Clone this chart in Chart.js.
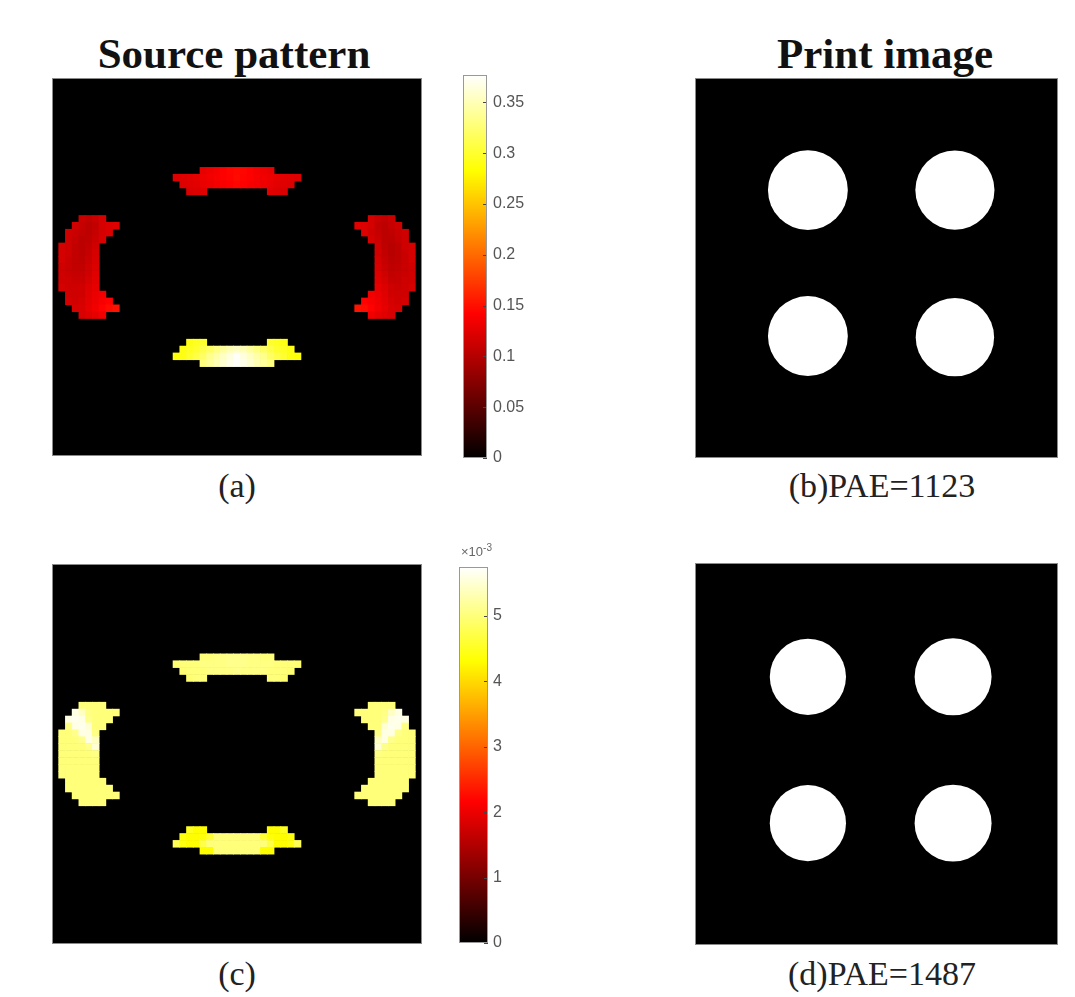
<!DOCTYPE html>
<html>
<head>
<meta charset="utf-8">
<title>Source pattern / Print image</title>
<script src="https://cdn.jsdelivr.net/npm/chart.js@4.4.1/dist/chart.umd.min.js"></script>
<style>
html, body { margin: 0; padding: 0; background: #fff; }
#page { position: relative; width: 1075px; height: 997px; overflow: hidden; background: #fff; }
.box { position: absolute; }
.box canvas { display: block; }
.title { position: absolute; width: 400px; text-align: center; white-space: nowrap;
         font-family: "Liberation Serif", "Times New Roman", serif; font-weight: bold;
         font-size: 43px; line-height: 43px; color: #111; }
.cap { position: absolute; width: 400px; text-align: center; white-space: nowrap;
       font-family: "Liberation Serif", "Times New Roman", serif;
       font-size: 34px; line-height: 34px; color: #222; }
.exp { position: absolute; font-family: "Liberation Sans", Arial, sans-serif; font-size: 13px;
       line-height: 13px; color: #666; white-space: nowrap; }
.exp sup { font-size: 10px; }
</style>
</head>
<body>
<div id="page">
    <div class="title" style="left:34px;top:32px;">Source pattern</div>
    <div class="title" style="left:685px;top:32px;">Print image</div>

    <div class="box" style="left:52px;top:78px;"><canvas id="srcA" width="370" height="378"></canvas></div>
    <div class="box" style="left:456px;top:60px;"><canvas id="cbA" width="100" height="413"></canvas></div>
    <div class="box" style="left:695px;top:78px;"><canvas id="printB" width="363" height="380"></canvas></div>

    <div class="box" style="left:52px;top:564px;"><canvas id="srcC" width="370" height="380"></canvas></div>
    <div class="box" style="left:452px;top:552px;"><canvas id="cbC" width="100" height="406"></canvas></div>
    <div class="exp" style="left:461px;top:541px;">&times;10<sup>-3</sup></div>
    <div class="box" style="left:695px;top:563px;"><canvas id="printD" width="363" height="382"></canvas></div>

    <div class="cap" style="left:37px;top:469px;">(a)</div>
    <div class="cap" style="left:682px;top:469px;">(b)PAE=1123</div>
    <div class="cap" style="left:37px;top:957px;">(c)</div>
    <div class="cap" style="left:682px;top:957px;">(d)PAE=1487</div>
</div>

<script>
// source grid is GRID_SIZE x GRID_SIZE pixels
var GRID_SIZE = 55;

// panel (a) source intensities: [row, first column, values left to right]
var srcTopA = [
    [13, 22, [0.128, 0.132, 0.136, 0.140, 0.144, 0.146, 0.144, 0.140, 0.136, 0.132, 0.128]],
    [14, 18, [0.122, 0.124, 0.126, 0.128, 0.131, 0.134, 0.137, 0.140, 0.143, 0.147, 0.143, 0.140, 0.137, 0.134, 0.131, 0.128, 0.126, 0.124, 0.122]],
    [15, 19, [0.122, 0.124, 0.126, 0.129, 0.132, 0.135, 0.138, 0.141, 0.144, 0.141, 0.138, 0.135, 0.132, 0.129, 0.126, 0.124, 0.122]],
    [16, 20, [0.120, 0.122, 0.124]],
    [16, 32, [0.124, 0.122, 0.120]]
];
var srcBottomA = [
    [38, 20, [0.290, 0.295, 0.300]],
    [38, 32, [0.300, 0.295, 0.290]],
    [39, 19, [0.290, 0.295, 0.300, 0.310, 0.320, 0.330, 0.340, 0.350, 0.355, 0.350, 0.340, 0.330, 0.320, 0.310, 0.300, 0.295, 0.290]],
    [40, 18, [0.285, 0.290, 0.300, 0.310, 0.320, 0.335, 0.345, 0.355, 0.365, 0.375, 0.365, 0.355, 0.345, 0.335, 0.320, 0.310, 0.300, 0.290, 0.285]],
    [41, 22, [0.330, 0.340, 0.350, 0.360, 0.370, 0.375, 0.370, 0.360, 0.350, 0.340, 0.330]]
];
var srcLeftA = [
    [20, 4, [0.112, 0.108, 0.112, 0.118]],
    [21, 3, [0.115, 0.110, 0.104, 0.108, 0.118, 0.122, 0.125]],
    [22, 2, [0.115, 0.112, 0.108, 0.104, 0.110, 0.118, 0.122]],
    [23, 2, [0.114, 0.110, 0.104, 0.106, 0.112, 0.120]],
    [24, 1, [0.118, 0.114, 0.108, 0.104, 0.108, 0.116]],
    [25, 1, [0.118, 0.114, 0.108, 0.104, 0.110, 0.118]],
    [26, 1, [0.118, 0.112, 0.108, 0.106, 0.112, 0.120]],
    [27, 1, [0.116, 0.112, 0.108, 0.108, 0.114, 0.122]],
    [28, 1, [0.116, 0.112, 0.110, 0.110, 0.116, 0.124]],
    [29, 1, [0.116, 0.114, 0.112, 0.112, 0.118, 0.126]],
    [30, 1, [0.118, 0.114, 0.114, 0.116, 0.122, 0.128]],
    [31, 2, [0.116, 0.114, 0.116, 0.124, 0.130, 0.134]],
    [32, 2, [0.118, 0.116, 0.118, 0.126, 0.132, 0.138, 0.142]],
    [33, 3, [0.118, 0.120, 0.128, 0.134, 0.142, 0.148, 0.152]],
    [34, 4, [0.120, 0.124, 0.128, 0.134]]
];
var srcRightA = [
    [20, 47, [0.118, 0.112, 0.108, 0.112]],
    [21, 45, [0.125, 0.122, 0.118, 0.108, 0.104, 0.110, 0.115]],
    [22, 46, [0.122, 0.116, 0.110, 0.104, 0.106, 0.112, 0.115]],
    [23, 47, [0.118, 0.112, 0.104, 0.104, 0.110, 0.114]],
    [24, 48, [0.114, 0.106, 0.102, 0.106, 0.114, 0.118]],
    [25, 48, [0.116, 0.108, 0.102, 0.106, 0.112, 0.118]],
    [26, 48, [0.118, 0.110, 0.104, 0.106, 0.112, 0.118]],
    [27, 48, [0.120, 0.112, 0.106, 0.108, 0.112, 0.116]],
    [28, 48, [0.122, 0.114, 0.108, 0.110, 0.112, 0.116]],
    [29, 48, [0.124, 0.118, 0.110, 0.110, 0.114, 0.116]],
    [30, 48, [0.128, 0.122, 0.114, 0.112, 0.114, 0.118]],
    [31, 47, [0.134, 0.130, 0.124, 0.116, 0.114, 0.116]],
    [32, 46, [0.142, 0.138, 0.132, 0.126, 0.118, 0.116, 0.118]],
    [33, 45, [0.152, 0.148, 0.142, 0.134, 0.128, 0.120, 0.118]],
    [34, 47, [0.134, 0.128, 0.124, 0.120]]
];

// panel (c) source intensities, in units of 1e-3
var srcTopC = [
    [13, 22, [5.00, 5.00, 5.05, 5.05, 5.10, 5.10, 5.10, 5.05, 5.05, 5.00, 5.00]],
    [14, 18, [4.95, 5.00, 5.00, 5.00, 5.05, 5.05, 5.05, 5.05, 5.10, 5.10, 5.10, 5.05, 5.05, 5.05, 5.05, 5.00, 5.00, 5.00, 4.95]],
    [15, 19, [4.95, 5.00, 5.00, 5.00, 5.05, 5.05, 5.05, 5.05, 5.10, 5.05, 5.05, 5.05, 5.05, 5.00, 5.00, 5.00, 4.95]],
    [16, 20, [4.95, 5.00, 5.00]],
    [16, 32, [5.00, 5.00, 4.95]]
];
var srcBottomC = [
    [38, 20, [4.50, 4.30, 4.30]],
    [38, 32, [4.30, 4.30, 4.50]],
    [39, 19, [4.40, 4.30, 4.30, 4.35, 4.60, 5.00, 5.00, 5.00, 5.00, 5.00, 5.00, 5.00, 4.60, 4.35, 4.30, 4.30, 4.40]],
    [40, 18, [4.80, 4.40, 4.30, 4.30, 4.70, 5.00, 5.00, 5.00, 5.00, 5.00, 5.00, 5.00, 5.00, 5.00, 4.70, 4.30, 4.30, 4.40, 4.80]],
    [41, 22, [4.30, 4.30, 5.00, 5.00, 5.00, 5.00, 5.00, 5.00, 5.00, 4.30, 4.30]]
];
var srcLeftC = [
    [20, 4, [5.00, 5.00, 5.00, 5.00]],
    [21, 3, [5.60, 5.40, 5.05, 5.00, 5.00, 5.00, 5.00]],
    [22, 2, [5.60, 5.65, 5.60, 5.10, 5.00, 5.00, 5.00]],
    [23, 2, [5.05, 5.60, 5.65, 5.50, 5.00, 5.00]],
    [24, 1, [5.00, 5.00, 5.10, 5.60, 5.60, 5.05]],
    [25, 1, [5.00, 5.00, 5.00, 5.10, 5.60, 5.40]],
    [26, 1, [5.00, 5.00, 5.00, 5.00, 5.10, 5.50]],
    [27, 1, [5.00, 5.00, 5.00, 5.00, 5.00, 5.05]],
    [28, 1, [5.00, 5.00, 5.00, 5.00, 5.00, 5.00]],
    [29, 1, [5.00, 5.00, 5.00, 5.00, 5.00, 5.00]],
    [30, 1, [5.00, 5.00, 5.00, 5.00, 5.00, 5.00]],
    [31, 2, [5.00, 5.00, 5.00, 5.00, 5.00, 5.00]],
    [32, 2, [5.00, 5.00, 5.00, 5.00, 5.00, 5.00, 5.00]],
    [33, 3, [5.00, 5.00, 5.00, 5.00, 5.00, 5.00, 5.00]],
    [34, 4, [5.00, 5.00, 5.00, 5.00]]
];
var srcRightC = [
    [20, 47, [5.00, 5.00, 5.00, 5.00]],
    [21, 45, [5.00, 5.00, 5.00, 5.00, 5.05, 5.40, 5.60]],
    [22, 46, [5.00, 5.00, 5.00, 5.10, 5.60, 5.65, 5.60]],
    [23, 47, [5.00, 5.00, 5.50, 5.65, 5.60, 5.05]],
    [24, 48, [5.05, 5.60, 5.60, 5.10, 5.00, 5.00]],
    [25, 48, [5.40, 5.60, 5.10, 5.00, 5.00, 5.00]],
    [26, 48, [5.50, 5.10, 5.00, 5.00, 5.00, 5.00]],
    [27, 48, [5.05, 5.00, 5.00, 5.00, 5.00, 5.00]],
    [28, 48, [5.00, 5.00, 5.00, 5.00, 5.00, 5.00]],
    [29, 48, [5.00, 5.00, 5.00, 5.00, 5.00, 5.00]],
    [30, 48, [5.00, 5.00, 5.00, 5.00, 5.00, 5.00]],
    [31, 47, [5.00, 5.00, 5.00, 5.00, 5.00, 5.00]],
    [32, 46, [5.00, 5.00, 5.00, 5.00, 5.00, 5.00, 5.00]],
    [33, 45, [5.00, 5.00, 5.00, 5.00, 5.00, 5.00, 5.00]],
    [34, 47, [5.00, 5.00, 5.00, 5.00]]
];

// colour bars
var cbTicksA = [0, 0.05, 0.1, 0.15, 0.2, 0.25, 0.3, 0.35];
var cbMaxA = 0.377;
var cbTicksC = [0, 1, 2, 3, 4, 5];   // x 10^-3
var cbMaxC = 5.75;

// print images: centres and radii of the four printed contacts (0..100 field)
var printBx = [31.1, 71.6, 31.1, 71.6];
var printBy = [29.5, 29.5, 67.9, 68.2];
var printBr = [11.0, 10.9, 11.0, 10.8];
var printDx = [31.1, 71.1, 31.1, 71.1];
var printDy = [29.8, 29.8, 68.1, 68.1];
var printDr = [10.5, 10.6, 10.5, 10.6];

function hotColor(t) {
    t = Math.max(0, Math.min(1, t));
    var r = Math.min(1, t / 0.375);
    var g = Math.max(0, Math.min(1, (t - 0.375) / 0.375));
    var b = Math.max(0, Math.min(1, (t - 0.75) / 0.25));
    return 'rgb(' + Math.round(r * 255) + ',' + Math.round(g * 255) + ',' + Math.round(b * 255) + ')';
}

function toCells(groups) {
    var out = [];
    for (var i = 0; i < groups.length; i++) {
        var rows = groups[i];
        for (var j = 0; j < rows.length; j++) {
            var row = rows[j][0], c0 = rows[j][1], vals = rows[j][2];
            for (var k = 0; k < vals.length; k++) {
                out.push({ x: c0 + k, y: row, v: vals[k] });
            }
        }
    }
    return out;
}

var panelFrame = {
    id: 'panelFrame',
    beforeDatasetsDraw: function(chart) {
        var a = chart.chartArea, ctx = chart.ctx;
        ctx.save();
        ctx.fillStyle = '#000';
        ctx.fillRect(a.left, a.top, a.right - a.left, a.bottom - a.top);
        ctx.restore();
    },
    afterDraw: function(chart) {
        var a = chart.chartArea, ctx = chart.ctx;
        ctx.save();
        ctx.strokeStyle = '#8a8a8a';
        ctx.lineWidth = 1;
        ctx.strokeRect(a.left + 0.5, a.top + 0.5, a.right - a.left - 1, a.bottom - a.top - 1);
        ctx.restore();
    }
};

var baseOptions = function(xmax, ymax, xmin, ymin) {
    return {
        responsive: false,
        animation: false,
        events: [],
        layout: { padding: 0 },
        plugins: { legend: { display: false }, tooltip: { enabled: false } },
        scales: {
            x: { type: 'linear', min: xmin, max: xmax, display: false },
            y: { type: 'linear', min: ymin, max: ymax, reverse: true, display: false }
        }
    };
};

function makeSource(id, groups, maxVal) {
    var cells = toCells(groups);
    new Chart(document.getElementById(id), {
        type: 'scatter',
        data: {
            datasets: [{
                data: cells,
                pointStyle: 'rect',
                pointBorderWidth: 0,
                pointRadius: function(ctx) {
                    var sx = ctx.chart.scales.x, sy = ctx.chart.scales.y;
                    var w = Math.abs(sx.getPixelForValue(1) - sx.getPixelForValue(0));
                    var h = Math.abs(sy.getPixelForValue(1) - sy.getPixelForValue(0));
                    return (Math.max(w, h) / 2 + 0.3) / Math.SQRT1_2;
                },
                pointBackgroundColor: function(ctx) {
                    var p = ctx.raw;
                    return p ? hotColor(p.v / maxVal) : '#000';
                }
            }]
        },
        options: baseOptions(GRID_SIZE - 0.5, GRID_SIZE - 0.5, -0.5, -0.5),
        plugins: [panelFrame]
    });
}

function makePrint(id, xs, ys, rs) {
    var pts = [];
    for (var i = 0; i < xs.length; i++) pts.push({ x: xs[i], y: ys[i] });
    new Chart(document.getElementById(id), {
        type: 'scatter',
        data: {
            datasets: [{
                data: pts,
                pointStyle: 'circle',
                pointBorderWidth: 0,
                pointBackgroundColor: '#fff',
                pointRadius: function(ctx) {
                    var sx = ctx.chart.scales.x;
                    return Math.abs(sx.getPixelForValue(rs[ctx.dataIndex]) - sx.getPixelForValue(0));
                }
            }]
        },
        options: baseOptions(100, 100, 0, 0),
        plugins: [panelFrame]
    });
}

var colorbarFrame = {
    id: 'colorbarFrame',
    afterDatasetsDraw: function(chart) {
        var a = chart.chartArea, ctx = chart.ctx, ys = chart.scales.y;
        ctx.save();
        ctx.strokeStyle = '#444';
        ctx.lineWidth = 1;
        for (var i = 0; i < ys.ticks.length; i++) {
            var y = Math.round(ys.getPixelForValue(ys.ticks[i].value)) + 0.5;
            ctx.beginPath();
            ctx.moveTo(a.right - 4, y);
            ctx.lineTo(a.right, y);
            ctx.stroke();
        }
        ctx.strokeStyle = '#999';
        ctx.strokeRect(a.left + 0.5, a.top + 0.5, a.right - a.left - 1, a.bottom - a.top - 1);
        ctx.restore();
    }
};

function makeColorbar(id, ticks, maxVal, barLeft, barWidth, pad, fmt) {
    var el = document.getElementById(id);
    var axisW = el.width - barLeft - barWidth;
    new Chart(el, {
        type: 'bar',
        data: {
            labels: [''],
            datasets: [{
                data: [[0, maxVal]],
                barPercentage: 1,
                categoryPercentage: 1,
                borderWidth: 0,
                backgroundColor: function(ctx) {
                    var a = ctx.chart.chartArea;
                    if (!a) return '#000';
                    var g = ctx.chart.ctx.createLinearGradient(0, a.bottom, 0, a.top);
                    g.addColorStop(0, '#000000');
                    g.addColorStop(0.375, '#ff0000');
                    g.addColorStop(0.75, '#ffff00');
                    g.addColorStop(1, '#ffffff');
                    return g;
                }
            }]
        },
        options: {
            responsive: false,
            animation: false,
            events: [],
            layout: { padding: { left: barLeft, top: 15, bottom: 15, right: 0 } },
            plugins: { legend: { display: false }, tooltip: { enabled: false } },
            scales: {
                x: { display: false },
                y: {
                    position: 'right',
                    min: 0,
                    max: maxVal,
                    afterFit: function(s) {
                        s.width = axisW;
                        s.paddingTop = 0;
                        s.paddingBottom = 0;
                    },
                    afterBuildTicks: function(s) {
                        s.ticks = ticks.map(function(v) { return { value: v }; });
                    },
                    grid: { display: false, drawTicks: false },
                    border: { display: false },
                    ticks: {
                        color: '#555',
                        padding: pad,
                        font: { family: 'Liberation Sans', size: 16 },
                        callback: fmt
                    }
                }
            }
        },
        plugins: [colorbarFrame]
    });
}

makeSource('srcA', [srcTopA, srcBottomA, srcLeftA, srcRightA], cbMaxA);
makeSource('srcC', [srcTopC, srcBottomC, srcLeftC, srcRightC], cbMaxC);
makePrint('printB', printBx, printBy, printBr);
makePrint('printD', printDx, printDy, printDr);
makeColorbar('cbA', cbTicksA, cbMaxA, 7, 24, 6, function(v) { return String(Math.round(v * 100) / 100); });
makeColorbar('cbC', cbTicksC, cbMaxC, 7, 29, 5, function(v) { return String(v); });
</script>
</body>
</html>
